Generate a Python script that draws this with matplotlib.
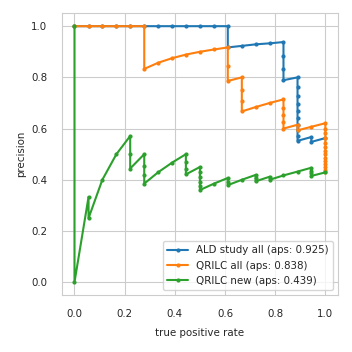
import matplotlib
matplotlib.use("Agg")
import matplotlib.pyplot as plt
import seaborn as sns

# recall / precision points
ald_recall = [0.0, 0.056, 0.111, 0.167, 0.222, 0.278, 0.333, 0.389, 0.444, 0.5, 0.556, 0.611,
              0.611, 0.667, 0.722, 0.778, 0.833, 0.833, 0.833, 0.833, 0.889,
              0.889, 0.889, 0.889, 0.889, 0.889, 0.889, 0.889, 0.889, 0.889,
              0.944, 0.944, 1.0]
ald_precision = [1.0, 1.0, 1.0, 1.0, 1.0, 1.0, 1.0, 1.0, 1.0, 1.0, 1.0, 1.0,
                 0.917, 0.923, 0.929, 0.933, 0.938, 0.882, 0.833, 0.789, 0.8,
                 0.762, 0.727, 0.696, 0.667, 0.64, 0.615, 0.593, 0.571, 0.552,
                 0.567, 0.548, 0.563]

qrilc_all_recall = [0.0, 0.056, 0.111, 0.167, 0.222, 0.278, 0.278, 0.333, 0.389, 0.444, 0.5,
                    0.556, 0.611, 0.611, 0.611, 0.667, 0.667, 0.667, 0.667, 0.722, 0.778,
                    0.833, 0.833, 0.833, 0.833, 0.833, 0.889, 0.889, 0.944, 1.0,
                    1.0, 1.0, 1.0, 1.0, 1.0, 1.0, 1.0, 1.0, 1.0, 1.0, 1.0, 1.0, 1.0]
qrilc_all_precision = [1.0, 1.0, 1.0, 1.0, 1.0, 1.0, 0.833, 0.857, 0.875, 0.889, 0.9,
                       0.909, 0.917, 0.846, 0.786, 0.8, 0.75, 0.706, 0.667, 0.684, 0.7,
                       0.714, 0.682, 0.652, 0.625, 0.6, 0.615, 0.593, 0.607, 0.621,
                       0.6, 0.581, 0.563, 0.545, 0.529, 0.514, 0.5, 0.486, 0.474, 0.462, 0.45, 0.439, 0.429]

qrilc_new_recall = [0.0, 0.0, 0.056, 0.056, 0.111, 0.167, 0.222, 0.222, 0.222, 0.278, 0.278,
                    0.278, 0.278, 0.333, 0.389, 0.444, 0.444, 0.444, 0.444, 0.5, 0.5, 0.5,
                    0.5, 0.5, 0.5, 0.556, 0.611, 0.611, 0.611, 0.667, 0.722, 0.722, 0.722,
                    0.778, 0.778, 0.833, 0.889, 0.944, 0.944, 0.944, 0.944, 1.0]
qrilc_new_precision = [1.0, 0.0, 0.333, 0.25, 0.4, 0.5, 0.571, 0.5, 0.444, 0.5, 0.455,
                       0.417, 0.385, 0.429, 0.467, 0.5, 0.471, 0.444, 0.421, 0.45, 0.429, 0.409,
                       0.391, 0.375, 0.36, 0.385, 0.407, 0.393, 0.379, 0.4, 0.419, 0.406, 0.394,
                       0.412, 0.4, 0.417, 0.432, 0.447, 0.436, 0.425, 0.415, 0.429]

labels = ['ALD study all (aps: 0.925)', 'QRILC all (aps: 0.838)', 'QRILC new (aps: 0.439)']

sns.set_style('whitegrid')
plt.rcParams['font.size'] = 7.4

fig, ax = plt.subplots(figsize=(3.52, 3.52), dpi=100)
fig.subplots_adjust(left=0.176, right=0.96, top=0.962, bottom=0.162)

ax.plot(ald_recall, ald_precision, marker='.', markersize=4, linewidth=1.5, label=labels[0])
ax.plot(qrilc_all_recall, qrilc_all_precision, marker='.', markersize=4, linewidth=1.5, label=labels[1])
ax.plot(qrilc_new_recall, qrilc_new_precision, marker='.', markersize=4, linewidth=1.5, label=labels[2])

ax.set_xlabel('true positive rate', fontsize=7.4, labelpad=6)
ax.set_ylabel('precision', fontsize=7.4, labelpad=4)
ax.tick_params(labelsize=7.4, size=4.8, pad=5.6)
ax.legend(loc='lower right', fontsize=7.4)

fig.savefig('out.png', dpi=100)
